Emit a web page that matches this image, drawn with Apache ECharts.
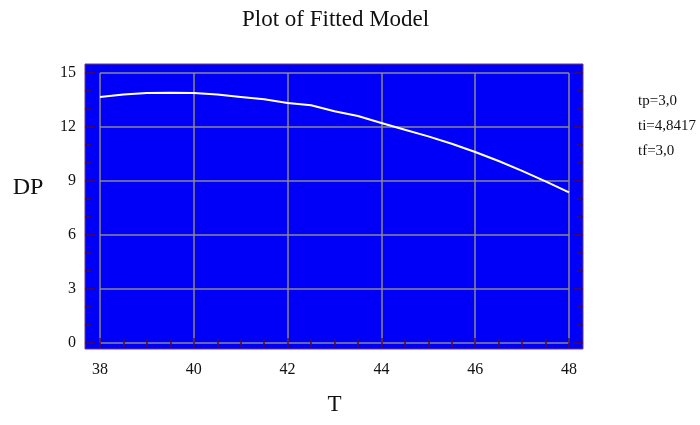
<!DOCTYPE html>
<html>
<head>
<meta charset="utf-8">
<script src="https://cdn.jsdelivr.net/npm/echarts@6/dist/echarts.min.js"></script>
<style>
  html, body { margin: 0; padding: 0; background: #fff; }
  #main { width: 700px; height: 425px; }
</style>
</head>
<body>
<div id="main"></div>
<script>
var myChart = echarts.init(document.getElementById('main'));

// data
var tVals  = [38, 38.5, 39, 39.5, 40, 40.5, 41, 41.5, 42, 42.5, 43, 43.5, 44, 44.5, 45, 45.5, 46, 46.5, 47, 47.5, 48];
var dpVals = [13.67, 13.8, 13.89, 13.9, 13.89, 13.8, 13.67, 13.54, 13.33, 13.21, 12.88, 12.61, 12.22, 11.85, 11.48, 11.07, 10.61, 10.11, 9.56, 8.98, 8.37];
var xTicks = [38, 48, 2];   // min, max, step
var yTicks = [0, 15, 3];
var notes  = ['tp=3,0', 'ti=4,8417', 'tf=3,0'];

var serif = 'Liberation Serif';
var tickColor = '#4b0b3b';
var gridColor = '#8a8a8a';

var points = [];
for (var i = 0; i < tVals.length; i++) {
    points.push([tVals[i], dpVals[i]]);
}

var edgeX = function (pos, offset, showLabels) {
    return {
        gridIndex: 1,
        type: 'value',
        position: pos,
        offset: offset,
        min: xTicks[0],
        max: xTicks[1],
        interval: xTicks[2],
        axisLine: { show: false },
        axisTick: { show: true, inside: true, length: 5, lineStyle: { color: tickColor, width: 1.5 } },
        minorTick: { show: true, splitNumber: 4, length: 4, lineStyle: { color: tickColor, width: 1.5 } },
        axisLabel: { show: showLabels, margin: 13, fontFamily: serif, fontSize: 16, color: '#111' },
        splitLine: { show: showLabels, lineStyle: { color: gridColor, width: 1.5 } }
    };
};

var edgeY = function (pos, offset, showLabels) {
    return {
        gridIndex: 1,
        type: 'value',
        position: pos,
        offset: offset,
        min: yTicks[0],
        max: yTicks[1],
        interval: yTicks[2],
        axisLine: { show: false },
        axisTick: { show: true, inside: true, length: 10, lineStyle: { color: tickColor, width: 1.5 } },
        minorTick: { show: true, splitNumber: 3, length: 6, lineStyle: { color: tickColor, width: 1.5 } },
        axisLabel: { show: showLabels, margin: 9, fontFamily: serif, fontSize: 16, color: '#111' },
        splitLine: { show: showLabels, lineStyle: { color: gridColor, width: 1.5 } }
    };
};

var xBottom = edgeX('bottom', 6, true);
xBottom.name = 'T';
xBottom.nameLocation = 'middle';
xBottom.nameGap = 44;
xBottom.nameTextStyle = { fontFamily: serif, fontSize: 23, color: '#111' };

var option = {
    animation: false,
    title: {
        text: 'Plot of Fitted Model',
        left: 242,
        top: 8,
        padding: 0,
        textStyle: { fontFamily: serif, fontSize: 23, fontWeight: 'normal', color: '#111' }
    },
    grid: [
        // blue frame
        { left: 85, top: 64, width: 498, height: 285, show: true, backgroundColor: '#0000f8', borderColor: '#6b3a80', borderWidth: 1 },
        // data area
        { left: 100, top: 73, width: 469, height: 270 }
    ],
    xAxis: [
        { gridIndex: 0, type: 'value', show: false, min: 0, max: 1 },
        xBottom,
        edgeX('top', 9, false)
    ],
    yAxis: [
        { gridIndex: 0, type: 'value', show: false, min: 0, max: 1 },
        edgeY('left', 15, true),
        edgeY('right', 14, false)
    ],
    graphic: [
        {
            type: 'text',
            x: 28,
            y: 188,
            style: { text: 'DP', font: '24px "Liberation Serif"', fill: '#111', align: 'center', verticalAlign: 'middle' }
        }
    ].concat(notes.map(function (s, k) {
        return {
            type: 'text',
            left: 638,
            top: 94 + k * 25,
            style: { text: s, font: '15px "Liberation Serif"', fill: '#111' }
        };
    })),
    series: [
        {
            name: 'DP',
            type: 'line',
            xAxisIndex: 1,
            yAxisIndex: 1,
            data: points,
            showSymbol: false,
            lineStyle: { color: '#ffffff', width: 2 }
        }
    ]
};

myChart.setOption(option, true);
window.onresize = myChart.resize;
</script>
</body>
</html>
